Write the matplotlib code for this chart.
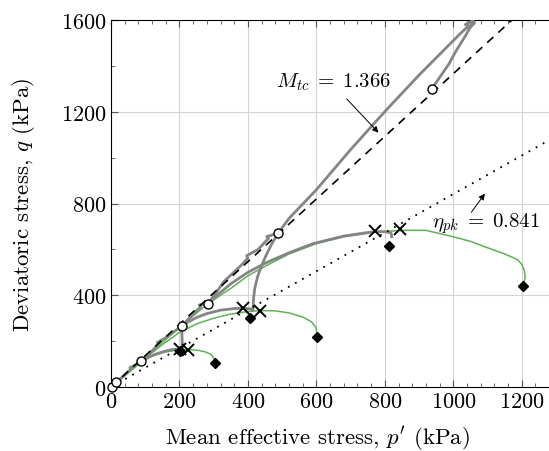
import numpy as np
import matplotlib
matplotlib.use('Agg')
import matplotlib.pyplot as plt
from matplotlib.ticker import MultipleLocator

plt.rcParams['font.family'] = 'serif'
plt.rcParams['font.serif'] = ['cmr10', 'DejaVu Serif']
plt.rcParams['mathtext.fontset'] = 'cm'
plt.rcParams['axes.formatter.use_mathtext'] = True

# critical state and peak stress ratios
M_tc = 1.366
eta_pk = 0.841

# gray stress paths (p', q) in kPa
gray_load_p = [0, 15, 40, 60, 55, 75, 88, 120, 140, 135, 160, 206, 240, 262, 258, 283, 330, 380, 400, 396, 430, 460, 455, 488,
               520, 600, 700, 805, 900, 980, 1020, 1045, 1035, 1058, 1050, 1062, 1048]
gray_load_q = [0, 20, 52, 80, 84, 98, 113, 158, 188, 194, 215, 265, 318, 350, 358, 360, 460, 530, 562, 572, 600, 648, 656, 670,
               735, 860, 1035, 1209, 1360, 1480, 1540, 1575, 1580, 1598, 1570, 1590, 1565]
gray_ret_p = [1048, 1035, 1010, 995, 990, 965, 938]
gray_ret_q = [1565, 1530, 1470, 1430, 1415, 1360, 1302]
gray_a_p = [88, 110, 130, 155, 178, 203, 208, 208, 207, 206]
gray_a_q = [113, 130, 143, 155, 163, 165, 162, 200, 240, 265]
gray_b_p = [206, 225, 250, 280, 320, 360, 385, 405, 415, 416, 420, 428, 440, 455, 470, 488]
gray_b_q = [265, 283, 303, 320, 335, 342, 343, 341, 336, 380, 430, 480, 530, 580, 625, 670]
gray_c_p = [283, 310, 350, 400, 455, 520, 590, 680, 771, 800, 818, 820]
gray_c_q = [360, 400, 450, 500, 543, 585, 625, 658, 678, 677, 672, 655]

# green stress paths
green1_p = [0, 40, 88, 120, 160, 200, 226, 255, 278, 294, 300, 302]
green1_q = [0, 50, 108, 135, 153, 162, 163, 160, 152, 140, 125, 110]
green2_p = [0, 50, 100, 150, 200, 250, 300, 350, 400, 435, 480, 520, 560, 585, 598, 602]
green2_q = [0, 62, 125, 185, 238, 275, 300, 318, 329, 333, 332, 323, 305, 285, 262, 235]
green3_p = [0, 100, 200, 260, 300, 350, 400, 455, 520, 600, 680, 771, 850, 920, 1000, 1050, 1100, 1150, 1188, 1192,
            1200, 1208, 1210, 1205]
green3_q = [0, 128, 260, 335, 380, 430, 485, 530, 580, 625, 655, 675, 683, 683, 655, 635, 607, 580, 555, 548,
            535, 505, 475, 450]

# markers
start_p = [2, 14, 88, 206, 283, 488, 938]
start_q = [0, 20, 113, 265, 360, 670, 1300]
peak_p = [203, 226, 385, 435, 771, 844]
peak_q = [165, 161, 343, 330, 678, 687]
end_p = [203, 303, 406, 603, 811, 1203]
end_q = [157, 104, 300, 217, 613, 439]

fig = plt.figure(figsize=(5.49, 4.52), dpi=100)
ax = fig.add_axes([111 / 549, 1 - 388 / 452, 445 / 549, 367 / 452])

gray = '#858585'
green = '#5db352'
for gp, gq in [(green1_p, green1_q), (green2_p, green2_q), (green3_p, green3_q)]:
    ax.plot(gp, gq, color=green, lw=1.1, zorder=2)
for gp, gq in [(gray_load_p, gray_load_q), (gray_ret_p, gray_ret_q), (gray_a_p, gray_a_q),
               (gray_b_p, gray_b_q), (gray_c_p, gray_c_q)]:
    ax.plot(gp, gq, color=gray, lw=2.0, zorder=3, solid_joinstyle='round')

pp = np.array([0, 1300])
ax.plot(pp, M_tc * pp, 'k', ls=(0, (5, 4)), lw=1.2, zorder=4)
ax.plot(pp, eta_pk * pp, 'k', ls=(0, (1, 3.5)), lw=1.3, zorder=4)

ax.plot(start_p, start_q, 'o', ms=6.5, mfc='white', mec='k', mew=1.0, zorder=6, clip_on=False)
ax.plot(peak_p, peak_q, 'x', ms=8, mec='k', mew=1.4, zorder=6)
ax.plot(end_p, end_q, 'D', ms=5.5, color='k', zorder=6)

ax.annotate('', xy=(787, 1100), xytext=(683, 1265),
            arrowprops=dict(arrowstyle='-|>', color='k', lw=0.7, mutation_scale=9))
ax.text(650, 1335, r'$M_{tc}\;=\;1.366$', fontsize=15, ha='center', va='center')
ax.annotate('', xy=(1097, 853), xytext=(1048, 752),
            arrowprops=dict(arrowstyle='-|>', color='k', lw=0.7, mutation_scale=9))
ax.text(1095, 717, r'$\eta_{pk}\;=\;0.841$', fontsize=15, ha='center', va='center')

ax.set_xlim(0, 1300)
ax.set_ylim(0, 1600)
ax.xaxis.set_major_locator(MultipleLocator(200))
ax.xaxis.set_minor_locator(MultipleLocator(40))
ax.yaxis.set_major_locator(MultipleLocator(400))
ax.yaxis.set_minor_locator(MultipleLocator(200))
ax.grid(True, which='major', color='#d4d4d4', lw=0.8)
ax.set_axisbelow(True)
ax.tick_params(which='both', direction='in', top=True, right=True, labelsize=16, color='#555555')
ax.tick_params(which='major', length=5)
ax.tick_params(which='minor', length=3)
for s in ax.spines.values():
    s.set_linewidth(0.8)
ax.set_xlabel("Mean effective stress, $p'$ (kPa)", fontsize=16.5)
ax.set_ylabel('Deviatoric stress, $q$ (kPa)', fontsize=16.5)
ax.xaxis.set_label_coords(0.464, -0.10)
ax.yaxis.set_label_coords(-0.166, 0.5)

fig.savefig('out.png', dpi=100)
